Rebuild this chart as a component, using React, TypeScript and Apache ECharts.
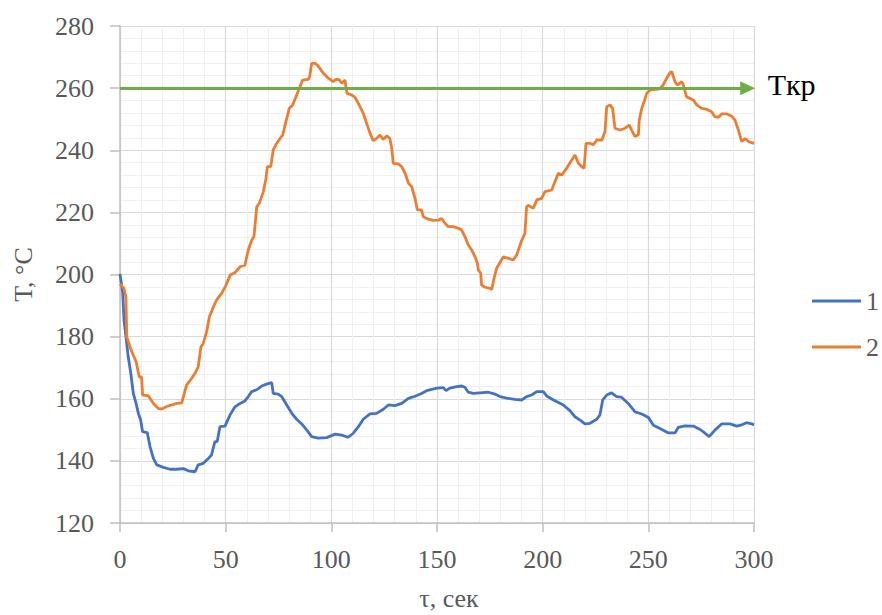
import React, { useEffect, useRef } from "react";
import * as echarts from "echarts";

// Series "1" (blue): time, s / temperature, °C
const time1 = [0, 1.3, 1.9, 2.8, 3.9, 5.1, 6.3, 7.6, 8.7, 9.8, 10.7, 12.9, 14.2, 15.8, 17.4, 20.5, 23.7, 26.8, 30, 32.3, 35.5, 37, 39.4, 41.8, 43.3, 44.9, 46, 47.3, 49.7, 52.1, 54.4, 56.8, 59.1, 60.7, 62.3, 64.7, 67, 69.4, 71.8, 72.5, 74.9, 76.5, 78.9, 81.3, 83.6, 86, 88.4, 90.7, 93.8, 97.8, 101.8, 104.9, 108, 110.4, 112.8, 115.1, 118.3, 121.4, 124.6, 127, 130.1, 133.3, 136.5, 139.6, 142.7, 145.1, 149.9, 153, 154.3, 156.1, 159.3, 161.7, 163.2, 164.8, 167.2, 170.3, 174.3, 177.4, 179.8, 183, 186.9, 190.1, 192.4, 194.8, 197.2, 200.3, 201.9, 205.1, 209.8, 213, 215.3, 217.7, 220, 222.4, 225.6, 227.1, 228.4, 230.3, 232.6, 235, 237.3, 240.5, 243.7, 246.9, 250, 252.4, 255.5, 259.5, 262.6, 264.2, 267.3, 271.3, 274.5, 276.8, 278.8, 281.5, 284.7, 288.7, 291.8, 294.2, 296.5, 298.9, 300];
const temp1 = [200.2, 194, 185.3, 180, 173.5, 168.2, 161.7, 158.5, 155.3, 153.1, 149.4, 149.1, 144.6, 140.8, 138.7, 137.9, 137.3, 137.3, 137.5, 136.8, 136.5, 138.7, 139.2, 140.8, 141.9, 146.2, 146.2, 151, 151.2, 154.8, 157.4, 158.5, 159.3, 160.7, 162.3, 162.9, 164.1, 164.7, 165.2, 161.7, 161.5, 160.7, 158, 155.3, 153.4, 151.9, 149.9, 147.8, 147.3, 147.5, 148.6, 148.3, 147.6, 148.9, 151, 153.4, 155.1, 155.3, 156.6, 158, 157.8, 158.5, 160.1, 160.8, 161.7, 162.6, 163.4, 163.6, 162.6, 163.4, 163.9, 164.1, 163.7, 162.1, 161.7, 161.9, 162.1, 161.5, 160.7, 160.2, 159.8, 159.6, 160.7, 161.2, 162.3, 162.3, 160.9, 159.6, 158, 156.1, 154.2, 153.1, 151.9, 152.1, 153.4, 154.8, 159.6, 161.2, 161.9, 160.7, 160.5, 158.5, 155.8, 155.1, 154, 151.5, 150.4, 149, 149, 150.8, 151.3, 151.2, 150.1, 148.9, 147.8, 149.9, 151.9, 151.9, 151.2, 151.6, 152.3, 151.9, 151.6];

// Series "2" (orange)
const time2 = [0, 1.9, 2.8, 3.2, 4.7, 6.3, 7.6, 9.1, 10.2, 10.7, 13.4, 15.8, 18.1, 19.7, 22.1, 24.5, 26.8, 29.2, 30, 31.5, 33.9, 35.5, 37, 38.3, 39.4, 41, 42.3, 44.2, 45.7, 48.1, 50.2, 52.1, 54.4, 56.8, 59.1, 60.7, 62.3, 63.4, 64.7, 65.9, 67.8, 69.1, 69.7, 71.3, 72.5, 74.1, 75.7, 77, 78.1, 80.1, 81.7, 83.6, 85.2, 86.4, 89.1, 89.7, 90.7, 92.3, 93.8, 96.2, 98.6, 100.9, 102.2, 103.7, 104.9, 106.5, 106.9, 107.5, 109.6, 111.2, 112.8, 115.1, 116.7, 118.3, 119.8, 121.4, 123, 124.5, 126.2, 127.7, 128.6, 129.3, 131.7, 133.3, 134.9, 136.5, 138, 139.6, 140.7, 142.7, 143.5, 145.9, 148.3, 150.6, 152.2, 153.8, 155.4, 157.7, 160.1, 161.6, 163.2, 164.8, 166.4, 168, 169.1, 169.6, 170.7, 171.1, 172.7, 175.1, 175.9, 177, 178.2, 181.4, 183.8, 186.1, 187.7, 190.1, 191.6, 192.4, 193.2, 195.6, 197.2, 199.5, 201.1, 204.3, 205.8, 207.4, 209, 211.4, 213.3, 215.3, 216.9, 218.5, 219.6, 220.5, 222.4, 224, 225.6, 228, 229.5, 230.3, 231.9, 233.1, 234.2, 236.6, 239, 241, 242.1, 243.7, 245.3, 245.7, 246.9, 248, 249.2, 250.8, 253.2, 255.5, 257, 258.7, 260.3, 261.1, 262.6, 263.7, 265.8, 266.6, 268.1, 269.7, 271.3, 272.9, 275.2, 277.6, 279.9, 281.5, 283.1, 284.7, 287.1, 289.4, 291, 292.6, 294.2, 295.8, 297.4, 300];
const temp2 = [197, 195.5, 192.8, 180, 176.7, 174, 172, 167, 167, 161.2, 161, 158.5, 156.9, 156.7, 157.5, 158, 158.5, 158.7, 160.7, 164.4, 166.6, 168.2, 170.3, 176.7, 177.8, 181.6, 186.4, 189.6, 191.8, 193.9, 196.6, 199.8, 200.6, 202.5, 203, 207.9, 211, 212.2, 221.8, 222.9, 226.6, 231, 234.7, 234.7, 240.1, 242.2, 243.8, 244.9, 248.1, 253.5, 254.6, 257.8, 260.5, 262.6, 262.8, 263.6, 268, 268, 267.1, 264.8, 263.2, 262.1, 262.8, 262.7, 261.6, 262.6, 260.3, 258.3, 257.8, 257, 255.1, 251.9, 248.7, 245.5, 243.1, 243.8, 244.9, 243.5, 244.6, 243.8, 240.6, 235.8, 235.6, 234.7, 232.6, 229.4, 228.3, 224.5, 220.8, 220.8, 218.6, 217.8, 217.4, 217.5, 218, 216.5, 215.4, 215.4, 214.9, 214.4, 212.2, 209.5, 207.9, 205.7, 203.6, 201.4, 200.4, 196.6, 195.9, 195.5, 195.2, 198.8, 202, 205.7, 205.2, 204.7, 206.3, 211, 213.2, 221.8, 222.3, 221.3, 224, 224.5, 226.7, 227.2, 229.9, 232.6, 232, 234.3, 236.4, 238.5, 235.8, 234.7, 234.2, 242.2, 242.2, 241.8, 243.3, 243.3, 246, 254, 254.6, 253.5, 247.1, 246.5, 247.1, 248.1, 246.5, 244.4, 245, 249.7, 253.5, 255.6, 258.3, 259.4, 259.6, 259.8, 261, 263.2, 265, 265.3, 262.1, 261, 262.1, 261, 257.2, 256.7, 256.2, 254.6, 253.5, 253.2, 252.4, 250.8, 250.6, 251.7, 251.7, 251, 249.7, 246.5, 242.8, 243.8, 242.8, 242.2];

// Critical temperature line
const criticalLabel = "Tкр";
const criticalTemp = 260;
const criticalFrom = 0;
const criticalTo = 297;

const seriesNames = ["1", "2"];
const xTicks = { min: 0, max: 300, interval: 50 };
const yTicks = { min: 120, max: 280, interval: 20 };

const FONT = "'Liberation Serif', 'Times New Roman', serif";
const GREY = "#595959";

function zip(xs: number[], ys: number[]) {
  return xs.map((x, i) => [x, ys[i]]);
}

export default function App() {
  const ref = useRef<HTMLDivElement>(null);

  useEffect(() => {
    if (!ref.current) return;
    const chart = echarts.init(ref.current, undefined, { renderer: "svg" });
    chart.setOption({
      animation: false,
      backgroundColor: "#ffffff",
      grid: {
        left: 120,
        right: 128,
        top: 26,
        bottom: 92,
        containLabel: false,
        outerBoundsMode: "none",
      },
      legend: {
        data: seriesNames,
        orient: "vertical",
        left: 812,
        top: 288,
        icon: "rect",
        itemWidth: 49,
        itemHeight: 3,
        itemGap: 20,
        padding: 0,
        textStyle: { fontFamily: FONT, fontSize: 26, color: GREY },
      },
      xAxis: {
        type: "value",
        min: xTicks.min,
        max: xTicks.max,
        interval: xTicks.interval,
        name: "τ, сек",
        nameLocation: "middle",
        nameGap: 62,
        nameTextStyle: { fontFamily: FONT, fontSize: 26, color: GREY, padding: [0, 0, 0, 24] },
        axisLine: { show: true, lineStyle: { color: "#bfbfbf", width: 1.5 } },
        axisTick: { show: true, length: 9, lineStyle: { color: "#bfbfbf", width: 1.5 } },
        axisLabel: { fontFamily: FONT, fontSize: 26, color: GREY, margin: 23 },
        splitLine: { show: true, lineStyle: { color: "#d9d9d9", width: 1.2 } },
        minorTick: { show: false, splitNumber: 5 },
        minorSplitLine: { show: true, lineStyle: { color: "#f0f0f0", width: 1 } },
      },
      yAxis: {
        type: "value",
        min: yTicks.min,
        max: yTicks.max,
        interval: yTicks.interval,
        name: "T, °C",
        nameLocation: "middle",
        nameGap: 84,
        nameTextStyle: { fontFamily: FONT, fontSize: 26, color: GREY },
        axisLine: { show: true, lineStyle: { color: "#bfbfbf", width: 1.5 } },
        axisTick: { show: true, length: 10, lineStyle: { color: "#bfbfbf", width: 1.5 } },
        axisLabel: { fontFamily: FONT, fontSize: 26, color: GREY, margin: 26 },
        splitLine: { show: true, lineStyle: { color: "#d9d9d9", width: 1.2 } },
        minorTick: { show: false, splitNumber: 5 },
        minorSplitLine: { show: true, lineStyle: { color: "#f0f0f0", width: 1 } },
      },
      series: [
        {
          name: seriesNames[0],
          type: "line",
          data: zip(time1, temp1),
          symbol: "none",
          lineStyle: { color: "#4472c4", width: 2.8 },
          itemStyle: { color: "#4472c4" },
          z: 3,
        },
        {
          name: seriesNames[1],
          type: "line",
          data: zip(time2, temp2),
          symbol: "none",
          lineStyle: { color: "#ed7d31", width: 2.8 },
          itemStyle: { color: "#ed7d31" },
          z: 3,
        },
        {
          name: criticalLabel,
          type: "line",
          data: [],
          markLine: {
            silent: true,
            symbol: ["none", "triangle"],
            symbolSize: [14, 15],
            lineStyle: { color: "#70ad47", width: 3, type: "solid" },
            label: {
              show: true,
              position: "end",
              formatter: criticalLabel,
              distance: 20,
              offset: [0, -4],
              fontFamily: FONT,
              fontSize: 30,
              color: "#000000",
            },
            data: [
              [
                { coord: [criticalFrom, criticalTemp] },
                { coord: [criticalTo, criticalTemp] },
              ],
            ],
          },
          z: 4,
        },
      ],
    });
    return () => chart.dispose();
  }, []);

  return (
    <div
      ref={ref}
      style={{ position: "fixed", left: 0, top: 0, width: 882, height: 615, background: "#fff" }}
    />
  );
}
